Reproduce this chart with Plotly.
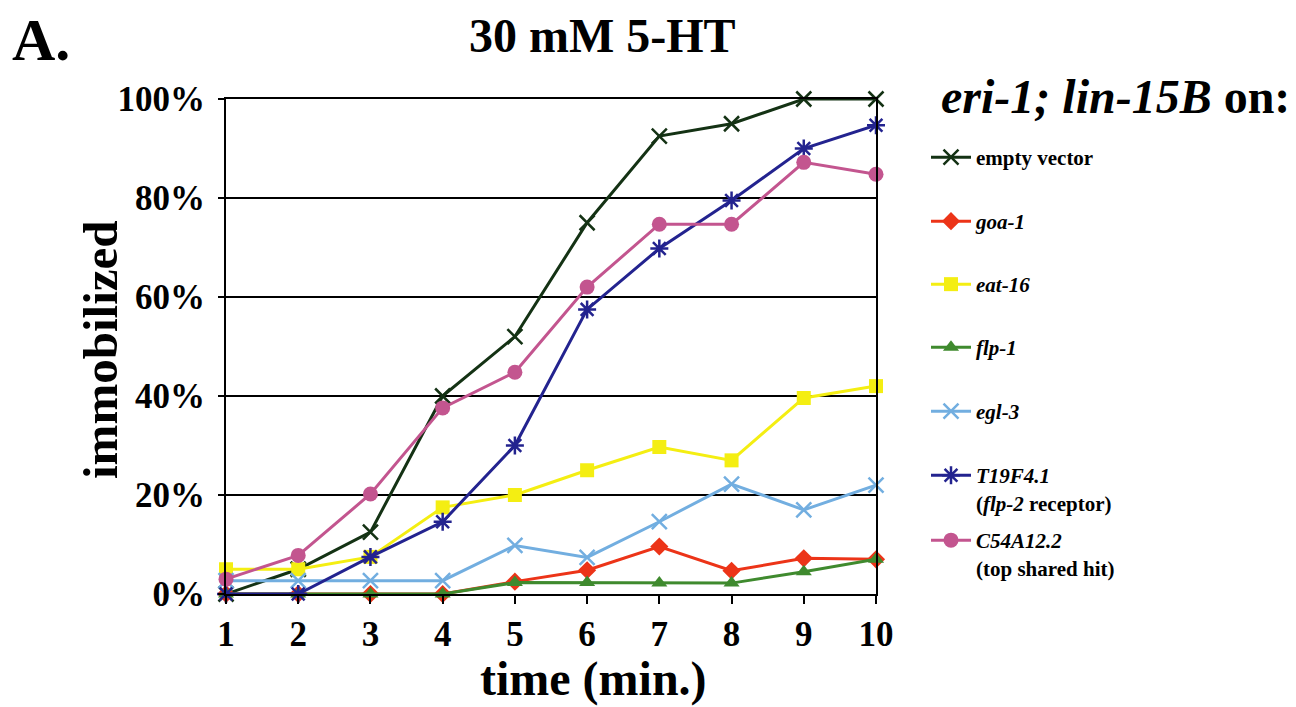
import plotly.graph_objects as go

time_min = [1, 2, 3, 4, 5, 6, 7, 8, 9, 10]

empty_vector = [0, 5, 12.5, 40, 52, 75, 92.5, 95, 100, 100]
goa_1 = [0, 0, 0, 0, 2.5, 4.8, 9.6, 4.7, 7.2, 7]
eat_16 = [5, 5, 7.5, 17.5, 20, 25, 29.7, 27, 39.6, 42]
flp_1 = [0, 0, 0, 0, 2.3, 2.3, 2.2, 2.2, 4.5, 7]
egl_3 = [2.7, 2.7, 2.7, 2.7, 9.8, 7.4, 14.6, 22.2, 17, 22]
t19f4_1 = [0, 0, 7.5, 14.6, 30, 57.5, 69.8, 79.5, 90, 94.7]
c54a12_2 = [3, 7.8, 20.2, 37.6, 44.8, 62, 74.7, 74.7, 87.2, 84.8]

y_tickvals = [0, 20, 40, 60, 80, 100]
y_ticktext = ["0%", "20%", "40%", "60%", "80%", "100%"]

series = [
    ("<b>empty vector</b>", empty_vector, "#143214", "x-thin", 15, 2.5),
    ("<b><i>goa-1</i></b>", goa_1, "#ec3418", "diamond", 14, 0),
    ("<b><i>eat-16</i></b>", eat_16, "#f4ee12", "square", 14, 0),
    ("<b><i>flp-1</i></b>", flp_1, "#3f8a2e", "triangle-up", 14, 0),
    ("<b><i>egl-3</i></b>", egl_3, "#72aee0", "x-thin", 15, 2.5),
    ("<b><i>T19F4.1</i><br>(<i>flp-2</i> receptor)</b>", t19f4_1, "#23238f", "asterisk", 15, 2.5),
    ("<b><i>C54A12.2</i><br>(top shared hit)</b>", c54a12_2, "#c3558f", "circle", 15, 0),
]

# page offset (browser body margin)
OFF = 8
W, H = 1296 - OFF, 707 - OFF

# target page-pixel geometry
plot_left, plot_right = 226 - OFF, 876 - OFF
plot_top, plot_bottom = 99 - OFF, 594 - OFF
pw = plot_right - plot_left
ph = plot_bottom - plot_top


def px(xp):
    return (xp - OFF - plot_left) / pw


def py(yp):
    return (plot_bottom - (yp - OFF)) / ph


legend_px = [157, 221, 284, 347, 411, 475, 540]

fig = go.Figure()
for i, (name, vals, color, sym, size, lw) in enumerate(series):
    legname = "legend" if i == 0 else f"legend{i+1}"
    marker = dict(symbol=sym, size=size, color=color)
    if lw:
        marker["line"] = dict(color=color, width=lw)
    fig.add_trace(go.Scatter(
        x=time_min, y=vals, name=name, mode="lines+markers",
        line=dict(color=color, width=3), marker=marker,
        cliponaxis=False, legend=legname,
    ))

legend_common = dict(
    xanchor="left", yanchor="top", bgcolor="rgba(0,0,0,0)",
    font=dict(family="Liberation Serif", size=21, color="black"),
    itemwidth=40, valign="top", borderwidth=0,
)
for i, yp in enumerate(legend_px):
    key = "legend" if i == 0 else f"legend{i+1}"
    fig.layout[key] = dict(legend_common, x=px(926), y=py(yp - 20))

fig.update_layout(
    width=W, height=H,
    margin=dict(l=plot_left, r=W - plot_right, t=plot_top, b=H - plot_bottom),
    paper_bgcolor="white", plot_bgcolor="white",
    font=dict(family="Liberation Serif", color="black"),
    showlegend=True,
)
fig.update_xaxes(
    range=[1, 10], tickvals=time_min, ticktext=[f"<b>{t}</b>" for t in time_min],
    showline=True, linecolor="black", linewidth=2, mirror=True,
    ticks="outside", ticklen=8, tickwidth=1.5, tickcolor="black",
    showgrid=False, zeroline=False,
    tickfont=dict(family="Liberation Serif", size=35, color="black"),
)
fig.update_yaxes(
    range=[0, 100], tickvals=y_tickvals, ticktext=[f"<b>{t}</b>" for t in y_ticktext],
    showline=True, linecolor="black", linewidth=2, mirror=True,
    ticks="outside", ticklen=6, tickwidth=1.5, tickcolor="black",
    ticklabelstandoff=6,
    showgrid=True, gridcolor="black", gridwidth=1.5, zeroline=False,
    tickfont=dict(family="Liberation Serif", size=35, color="black"),
)

fig.add_annotation(text="<b>A.</b>", xref="paper", yref="paper",
                   x=px(10), y=py(40), xanchor="left", yanchor="middle", showarrow=False,
                   font=dict(family="Liberation Serif", size=60, color="black"))
fig.add_annotation(text="<b>30 mM 5-HT</b>", xref="paper", yref="paper",
                   x=px(602), y=py(35), xanchor="center", yanchor="middle", showarrow=False,
                   font=dict(family="Liberation Serif", size=48, color="black"))
fig.add_annotation(text="<b><i>eri-1; lin-15B</i> on:</b>", xref="paper", yref="paper",
                   x=px(1292), y=py(97), xanchor="right", yanchor="middle", showarrow=False,
                   font=dict(family="Liberation Serif", size=48, color="black"))
fig.add_annotation(text="<b>immobilized</b>", xref="paper", yref="paper",
                   x=px(100), y=py(350), textangle=-90,
                   xanchor="center", yanchor="middle", showarrow=False,
                   font=dict(family="Liberation Serif", size=49, color="black"))
fig.add_annotation(text="<b>time (min.)</b>", xref="paper", yref="paper",
                   x=px(593), y=py(679), xanchor="center", yanchor="middle", showarrow=False,
                   font=dict(family="Liberation Serif", size=48, color="black"))

fig.write_html("out.html")
